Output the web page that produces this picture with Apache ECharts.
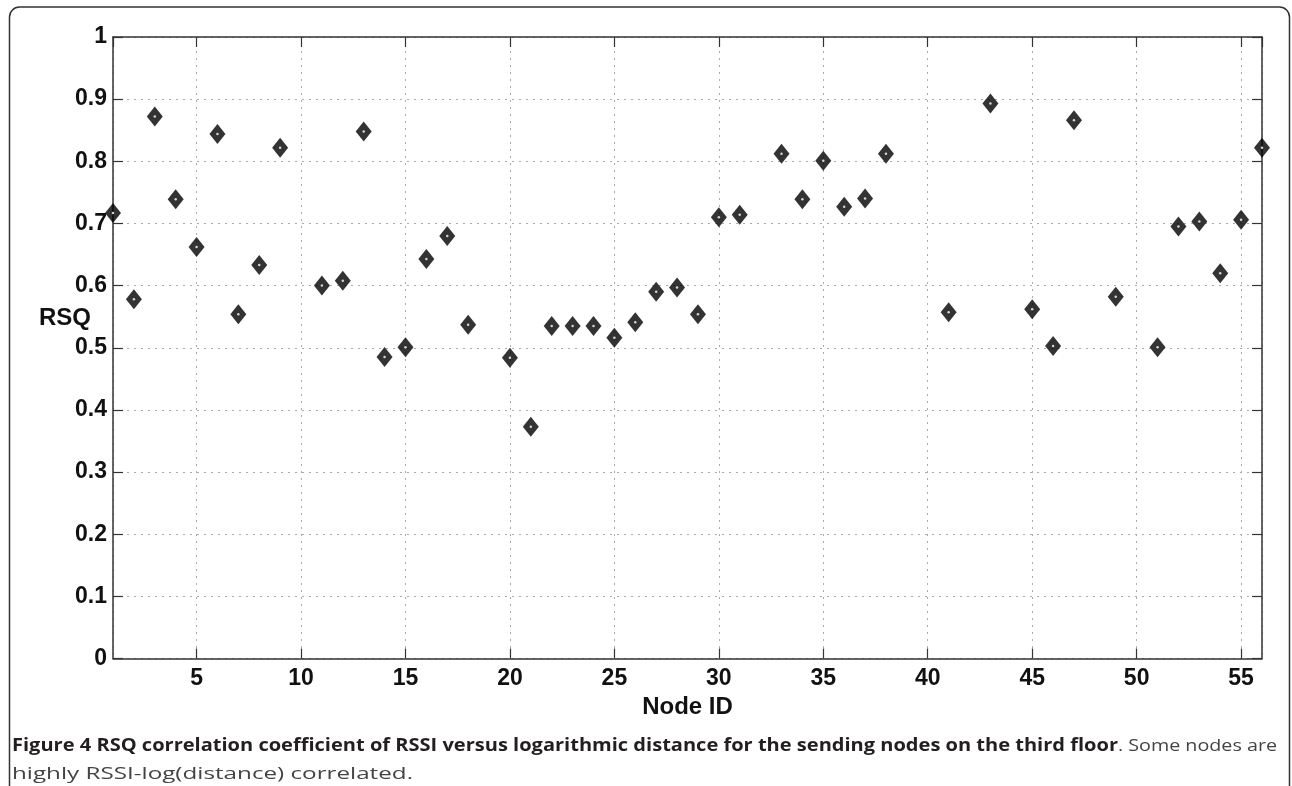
<!DOCTYPE html>
<html>
<head>
<meta charset="utf-8">
<script src="https://cdn.jsdelivr.net/npm/echarts@6/dist/echarts.min.js"></script>
<style>
html,body{margin:0;padding:0;background:#fff;}
#c{width:1292px;height:786px;}
</style>
</head>
<body>
<div id="c"></div>
<script>
// Node IDs and RSQ values
const nodeIds = [1,2,3,4,5,6,7,8,9,11,12,13,14,15,16,17,18,20,21,22,23,24,25,26,27,28,29,30,31,33,34,35,36,37,38,41,43,45,46,47,49,51,52,53,54,55,56];
const rsq = [0.717,0.578,0.872,0.739,0.662,0.844,0.554,0.633,0.822,0.600,0.608,0.848,0.485,0.501,0.643,0.680,0.537,0.484,0.373,0.535,0.535,0.535,0.516,0.541,0.590,0.597,0.554,0.710,0.714,0.812,0.739,0.801,0.727,0.740,0.812,0.557,0.893,0.562,0.503,0.866,0.582,0.501,0.695,0.703,0.620,0.706,0.822];
const xTickLabels = [5,10,15,20,25,30,35,40,45,50,55];
const yTickLabels = ['0','0.1','0.2','0.3','0.4','0.5','0.6','0.7','0.8','0.9','1'];
const xName = 'Node ID';
const yName = 'RSQ';
const captionBold = 'Figure 4 RSQ correlation coefficient of RSSI versus logarithmic distance for the sending nodes on the third floor';
const captionRest1 = '. Some nodes are';
const captionRest2 = 'highly RSSI-log(distance) correlated.';

const points = nodeIds.map((id, i) => [id, rsq[i]]);
const labelFont = {fontFamily: 'Liberation Sans, Arial, sans-serif', fontWeight: 'bold', fontSize: 23, color: '#111'};
const axisLineStyle = {color: '#333', width: 1.5};

// caption layout: fit each run into the width it takes in the reference
const boldFont = 'bold 17px "Open Sans", sans-serif';
const normFont = '17px "Open Sans", sans-serif';
const mctx = document.createElement('canvas').getContext('2d');
function textW(t, f) { mctx.font = f; return mctx.measureText(t).width; }
const sBold = (1118 - 12) / textW(captionBold, boldFont);
const sRest1 = (1277 - 1118) / textW(captionRest1, normFont);
const sRest2 = (413 - 12) / textW(captionRest2, normFont);

const chart = echarts.init(document.getElementById('c'), null, {renderer: 'canvas'});
chart.setOption({
  animation: false,
  backgroundColor: '#fff',
  grid: {left: 113, right: 30, top: 37, bottom: 127.5, containLabel: false},
  xAxis: [{
    type: 'value', min: 1, max: 56, splitNumber: 11, position: 'bottom',
    axisLine: {show: true, onZero: false, lineStyle: axisLineStyle},
    axisTick: {show: true, inside: true, length: 10, lineStyle: {color: '#333', width: 1.2}},
    axisLabel: Object.assign({margin: 9, showMinLabel: false, showMaxLabel: false,
      formatter: v => (xTickLabels.indexOf(v) >= 0 ? String(v) : '')}, labelFont),
    splitLine: {show: true, lineStyle: {color: '#aaa', type: [2, 5], width: 1}},
    name: xName, nameLocation: 'middle', nameGap: 31,
    nameTextStyle: {fontFamily: 'Liberation Sans, Arial, sans-serif', fontWeight: 'bold', fontSize: 24, color: '#111'}
  }, {
    type: 'value', min: 1, max: 56, splitNumber: 11, position: 'top',
    axisLine: {show: true, onZero: false, lineStyle: axisLineStyle},
    axisTick: {show: true, inside: true, length: 10, lineStyle: {color: '#333', width: 1.2}},
    axisLabel: {show: false}, splitLine: {show: false}
  }],
  yAxis: [{
    type: 'value', min: 0, max: 1, interval: 0.1, position: 'left',
    axisLine: {show: true, onZero: false, lineStyle: axisLineStyle},
    axisTick: {show: true, inside: true, length: 10, lineStyle: {color: '#333', width: 1.2}},
    axisLabel: Object.assign({margin: 6,
      formatter: v => yTickLabels[Math.round(v * 10)]}, labelFont),
    splitLine: {show: true, lineStyle: {color: '#aaa', type: [2, 5], width: 1}}
  }, {
    type: 'value', min: 0, max: 1, interval: 0.1, position: 'right',
    axisLine: {show: true, onZero: false, lineStyle: axisLineStyle},
    axisTick: {show: true, inside: true, length: 10, lineStyle: {color: '#333', width: 1.2}},
    axisLabel: {show: false}, splitLine: {show: false}
  }],
  series: [{
    type: 'scatter', xAxisIndex: 0, yAxisIndex: 0, data: points, clip: false,
    symbol: 'diamond', symbolSize: [16, 20], itemStyle: {color: '#000'}, z: 5
  }, {
    type: 'scatter', xAxisIndex: 0, yAxisIndex: 0, data: points, clip: false,
    symbol: 'circle', symbolSize: 2.5, itemStyle: {color: '#fff'}, z: 6, silent: true
  }],
  graphic: [
    {type: 'rect', z: 0, shape: {x: 9.5, y: 7, width: 1280, height: 830, r: 10},
     style: {fill: null, stroke: '#333', lineWidth: 1.5}},
    {type: 'text', x: 39, y: 306, style: {text: yName,
      font: 'bold 24px "Liberation Sans", Arial, sans-serif', fill: '#111'}},
    {type: 'text', x: 12, y: 738, scaleX: sBold, originX: 0,
     style: {text: captionBold, font: boldFont, fill: '#231f20'}},
    {type: 'text', x: 1118, y: 738, scaleX: sRest1, originX: 0,
     style: {text: captionRest1, font: normFont, fill: '#444'}},
    {type: 'text', x: 12, y: 766, scaleX: sRest2, originX: 0,
     style: {text: captionRest2, font: normFont, fill: '#444'}}
  ]
});
</script>
</body>
</html>
